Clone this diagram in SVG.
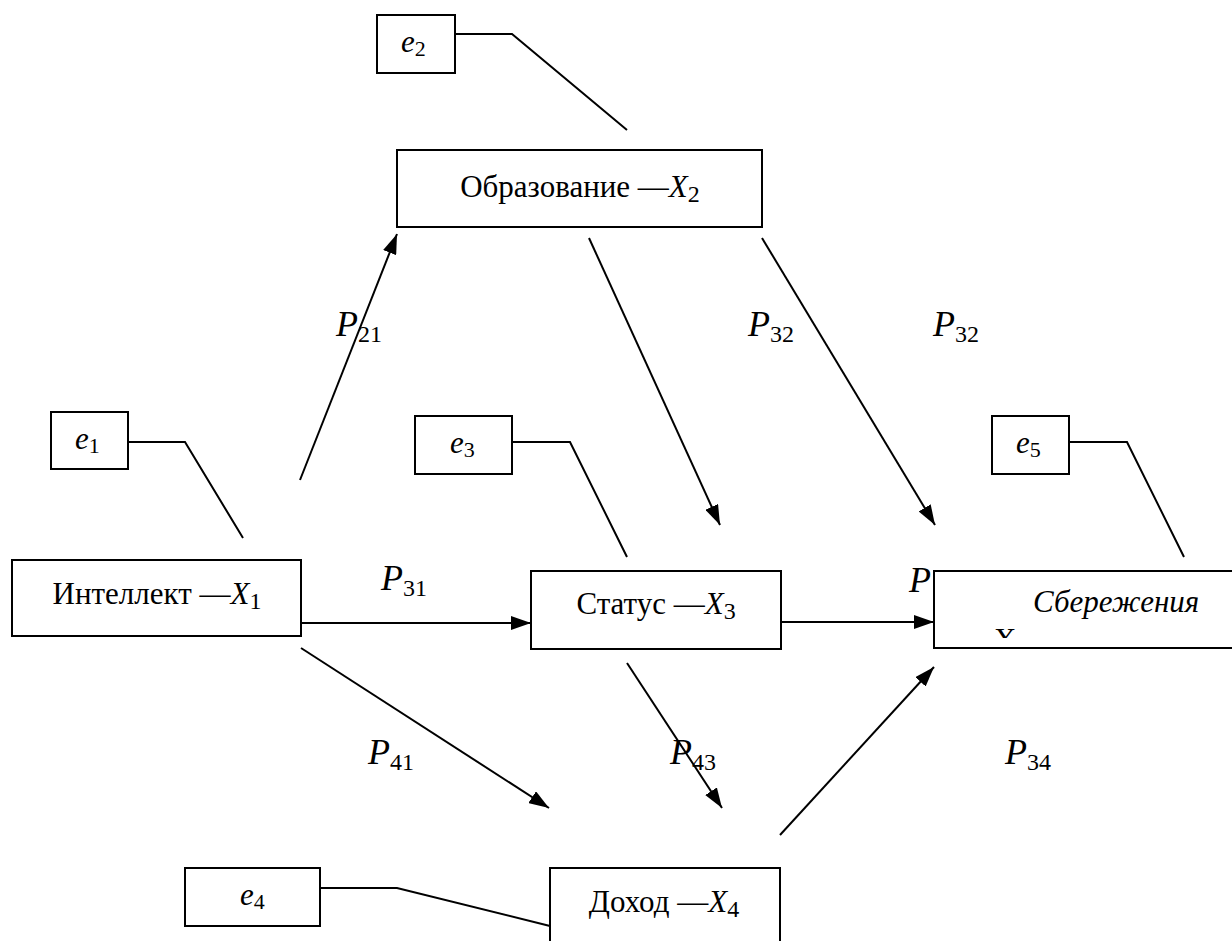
<svg xmlns="http://www.w3.org/2000/svg" width="1232" height="941" viewBox="0 0 1232 941">
  <style>
    .box { fill: #ffffff; stroke: #000000; stroke-width: 2; }
    .ln { fill: none; stroke: #000000; stroke-width: 2; }
    .lbl { font-family: "Liberation Serif", "Times New Roman", "DejaVu Serif", serif; font-size: 31px; fill: #000000; }
    .it { font-style: italic; }
    .p { font-family: "Liberation Serif", "Times New Roman", serif; font-size: 36px; font-style: italic; fill: #000000; }
    .sub { font-family: "Liberation Serif", "Times New Roman", serif; font-size: 24px; font-style: normal; fill: #000000; }
    .e { font-family: "Liberation Serif", "Times New Roman", serif; font-size: 31px; font-style: italic; fill: #000000; }
    .es { font-family: "Liberation Serif", "Times New Roman", serif; font-size: 22px; font-style: normal; fill: #000000; }
  </style>
  <defs>
    <marker id="arrow" markerUnits="userSpaceOnUse" markerWidth="20" markerHeight="14" viewBox="0 0 20 14" refX="20" refY="7" orient="auto">
      <path d="M0,0 L20,7 L0,14 Z" fill="#000000"/>
    </marker>
    <clipPath id="savClip">
      <rect x="934" y="571" width="300" height="67"/>
    </clipPath>
  </defs>
  <rect width="1232" height="941" fill="#ffffff"/>

  <!-- error-term links -->
  <g id="error-links">
    <polyline class="ln" points="455,34 512,34 627,130"/>
    <polyline class="ln" points="128,442 185,442 243,538"/>
    <polyline class="ln" points="512,442 570,442 627,557"/>
    <polyline class="ln" points="1069,442 1127,442 1184,557"/>
    <polyline class="ln" points="320,888 397,888 550,926"/>
  </g>

  <!-- causal paths -->
  <g id="connectors">
    <line class="ln" x1="300" y1="480" x2="397" y2="234" marker-end="url(#arrow)"/>
    <line class="ln" x1="589" y1="238" x2="720" y2="525" marker-end="url(#arrow)"/>
    <line class="ln" x1="762" y1="238" x2="935" y2="525" marker-end="url(#arrow)"/>
    <line class="ln" x1="301" y1="623" x2="531" y2="623" marker-end="url(#arrow)"/>
    <line class="ln" x1="781" y1="622" x2="934" y2="622" marker-end="url(#arrow)"/>
    <line class="ln" x1="301" y1="648" x2="549" y2="808" marker-end="url(#arrow)"/>
    <line class="ln" x1="627" y1="663" x2="722" y2="808" marker-end="url(#arrow)"/>
    <line class="ln" x1="780" y1="835" x2="934" y2="667" marker-end="url(#arrow)"/>
  </g>

  <!-- path coefficients -->
  <g id="coefficients">
    <text class="p" x="336" y="336">P<tspan class="sub" dy="6">21</tspan></text>
    <text class="p" x="748" y="336">P<tspan class="sub" dy="6">32</tspan></text>
    <text class="p" x="933" y="336">P<tspan class="sub" dy="6">32</tspan></text>
    <text class="p" x="381" y="590">P<tspan class="sub" dy="6">31</tspan></text>
    <text class="p" x="368" y="764">P<tspan class="sub" dy="6">41</tspan></text>
    <text class="p" x="670" y="764">P<tspan class="sub" dy="6">43</tspan></text>
    <text class="p" x="1005" y="764">P<tspan class="sub" dy="6">34</tspan></text>
    <text class="p" x="909" y="592">P</text>
  </g>

  <g id="e2">
    <rect class="box" x="377" y="15" width="78" height="58"/>
    <text class="e" x="401" y="52">e<tspan class="es" dy="4">2</tspan></text>
  </g>
  <g id="e1">
    <rect class="box" x="51" y="412" width="77" height="57"/>
    <text class="e" x="75" y="449">e<tspan class="es" dy="4">1</tspan></text>
  </g>
  <g id="e3">
    <rect class="box" x="415" y="416" width="97" height="58"/>
    <text class="e" x="450" y="453">e<tspan class="es" dy="4">3</tspan></text>
  </g>
  <g id="e5">
    <rect class="box" x="992" y="416" width="77" height="58"/>
    <text class="e" x="1016" y="453">e<tspan class="es" dy="4">5</tspan></text>
  </g>
  <g id="e4">
    <rect class="box" x="185" y="868" width="135" height="58"/>
    <text class="e" x="240" y="905">e<tspan class="es" dy="4">4</tspan></text>
  </g>

  <g id="education">
    <rect class="box" x="397" y="150" width="365" height="77"/>
    <text class="lbl" x="580" y="197" text-anchor="middle">Образование —<tspan class="it">X</tspan><tspan class="sub" dy="5">2</tspan></text>
  </g>
  <g id="intellect">
    <rect class="box" x="12" y="560" width="289" height="76"/>
    <text class="lbl" x="157" y="604" text-anchor="middle">Интеллект —<tspan class="it">X</tspan><tspan class="sub" dy="5">1</tspan></text>
  </g>
  <g id="status">
    <rect class="box" x="531" y="571" width="250" height="78"/>
    <text class="lbl" x="656" y="614" text-anchor="middle">Статус —<tspan class="it">X</tspan><tspan class="sub" dy="5">3</tspan></text>
  </g>
  <g id="savings">
    <rect class="box" x="934" y="571" width="310" height="77"/>
    <text class="lbl it" x="1033" y="612">Сбережения</text>
    <text class="lbl" x="994" y="650" clip-path="url(#savClip)">X</text>
  </g>
  <g id="income">
    <rect class="box" x="550" y="868" width="230" height="80"/>
    <text class="lbl" x="664" y="912" text-anchor="middle">Доход —<tspan class="it">X</tspan><tspan class="sub" dy="5">4</tspan></text>
  </g>
</svg>
